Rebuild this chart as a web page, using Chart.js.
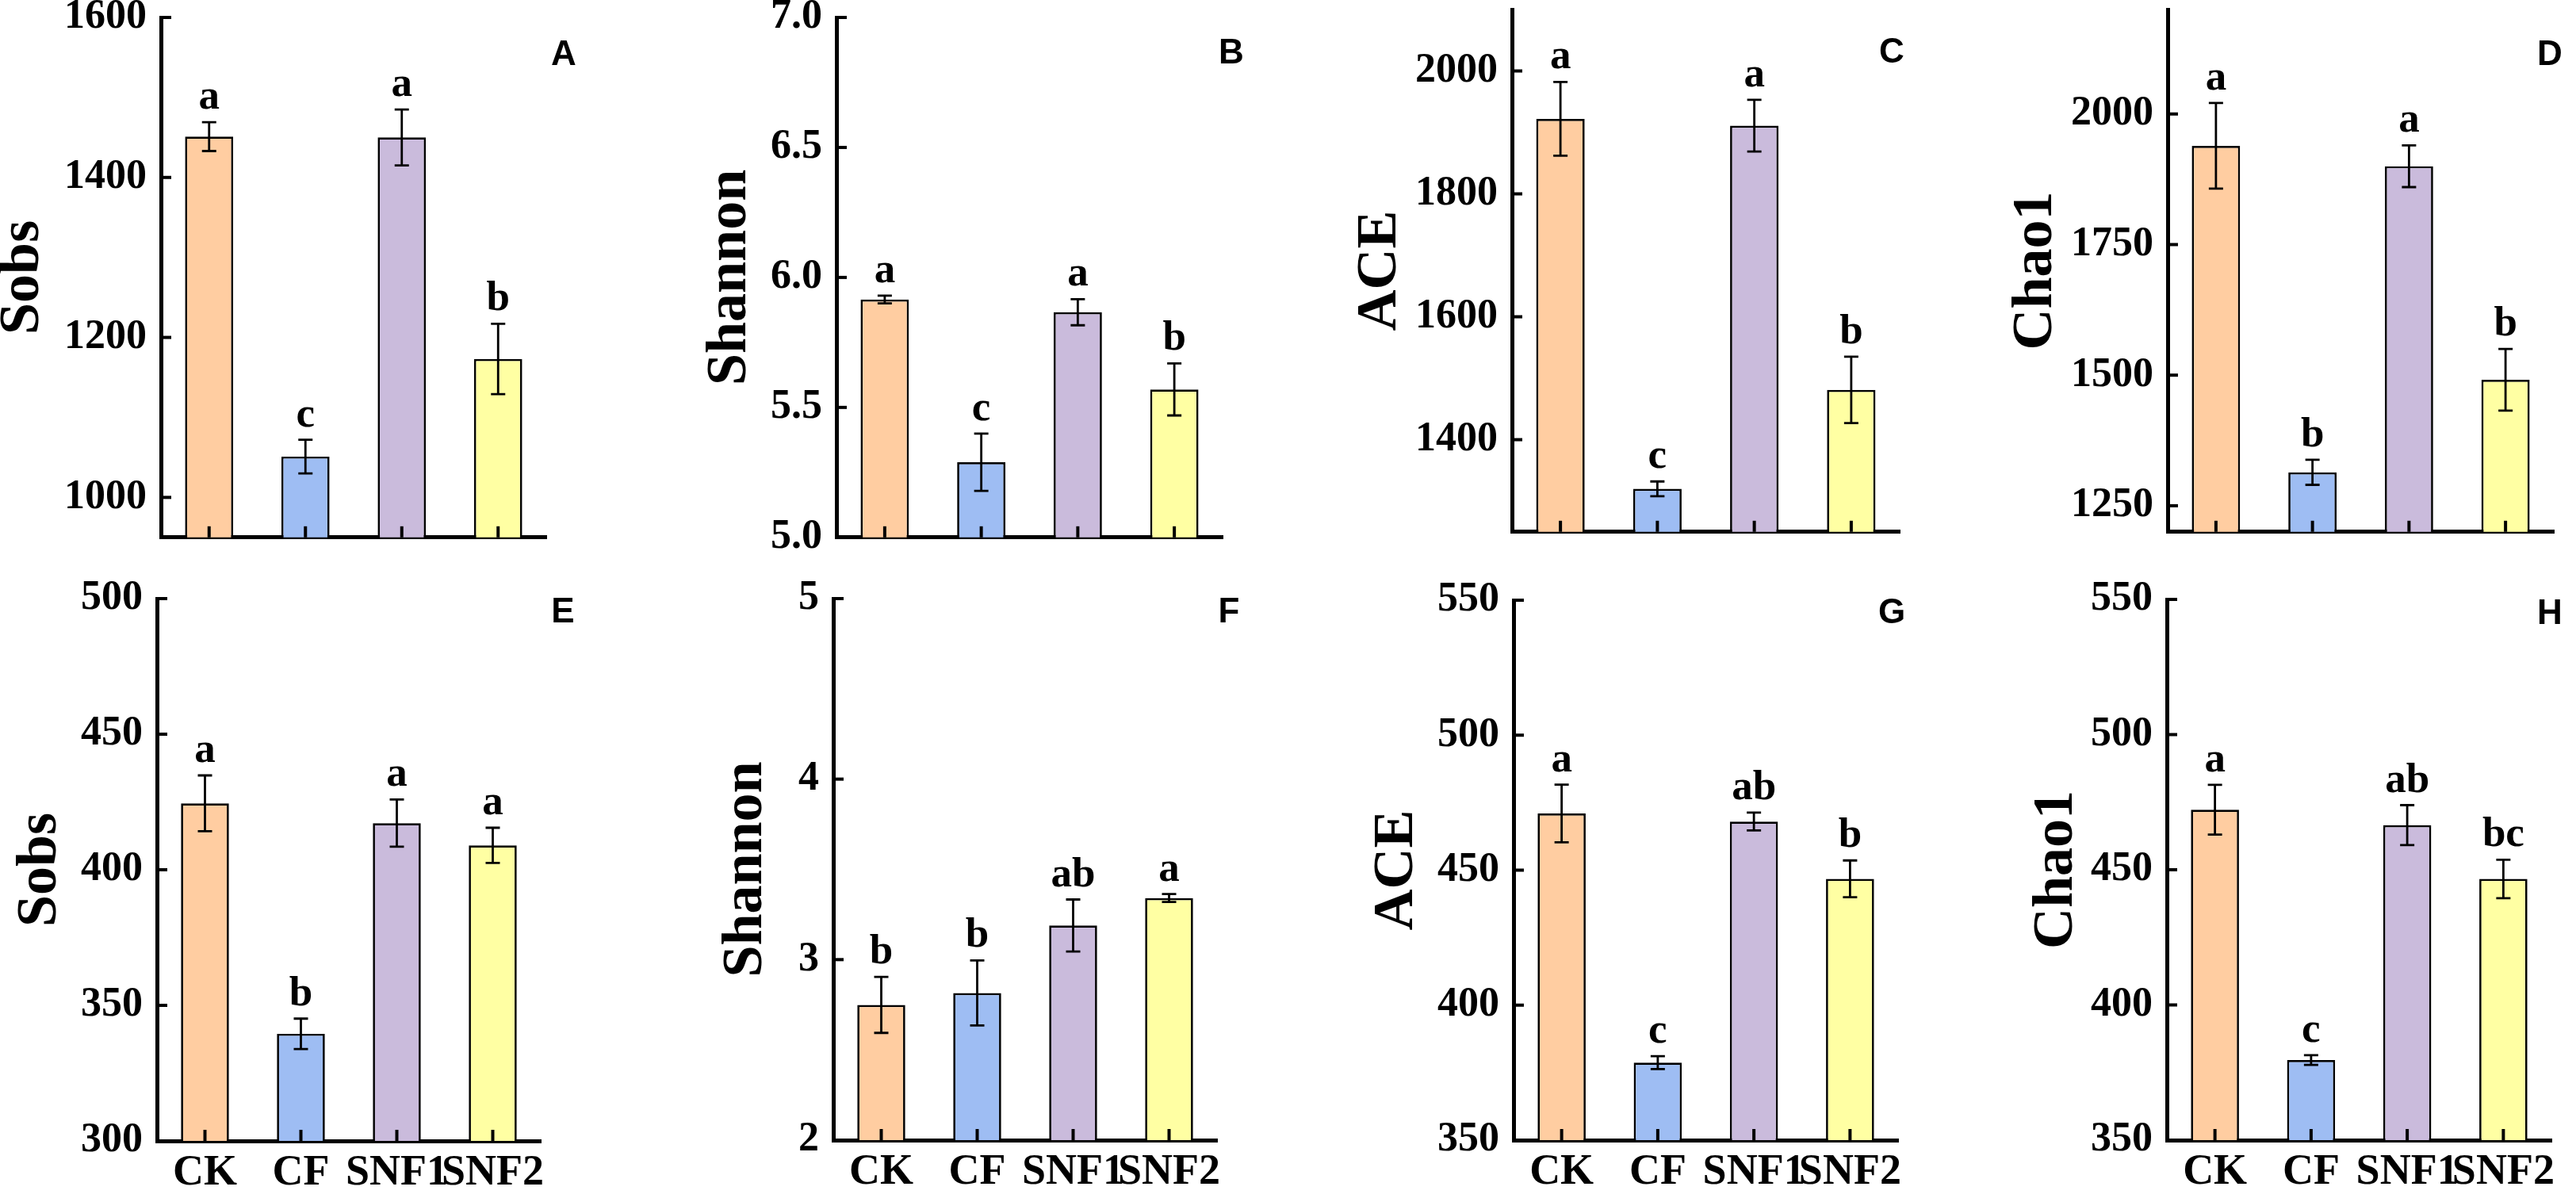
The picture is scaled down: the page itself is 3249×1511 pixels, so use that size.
<!DOCTYPE html>
<html lang="en">
<head>
<meta charset="utf-8">
<title>Alpha diversity</title>
<script src="https://cdn.jsdelivr.net/npm/chart.js@4.4.1/dist/chart.umd.min.js"></script>
<style>
  html, body { margin: 0; padding: 0; background: #fff; }
  body { width: 3249px; height: 1511px; position: relative; overflow: hidden; }
  canvas { position: absolute; }
</style>
</head>
<body>
<script>
// categorias (tratamientos)
const categorias = ['CK', 'CF', 'SNF1', 'SNF2'];
const coloresBarras = ['#FFCDA1', '#9EBDF3', '#CABBDC', '#FFFFA3'];

// Fila superior
const sobsA = [1451, 1051, 1450, 1173];
const errSobsA = [18, 21, 35, 44];
const letrasSobsA = ['a', 'c', 'a', 'b'];
const ticksSobsA = [1000, 1200, 1400, 1600];
const rangoSobsA = [950, 1600];

const shannonB = [5.915, 5.289, 5.866, 5.569];
const errShannonB = [0.015, 0.11, 0.05, 0.10];
const letrasShannonB = ['a', 'c', 'a', 'b'];
const ticksShannonB = [5.0, 5.5, 6.0, 6.5, 7.0];
const rangoShannonB = [5.0, 7.0];

const aceC = [1922, 1320, 1911, 1481];
const errAceC = [60, 12, 42, 54];
const letrasAceC = ['a', 'c', 'a', 'b'];
const ticksAceC = [1400, 1600, 1800, 2000];
const rangoAceC = [1250, 2100];

const chao1D = [1939, 1314, 1900, 1491];
const errChao1D = [82, 24, 40, 59];
const letrasChao1D = ['a', 'b', 'a', 'b'];
const ticksChao1D = [1250, 1500, 1750, 2000];
const rangoChao1D = [1200, 2200];

// Fila inferior
const sobsE = [424.5, 339.5, 417.2, 409];
const errSobsE = [10.3, 5.6, 8.7, 6.5];
const letrasSobsE = ['a', 'b', 'a', 'a'];
const ticksSobsE = [300, 350, 400, 450, 500];
const rangoSobsE = [300, 500];

const shannonF = [2.749, 2.815, 3.189, 3.341];
const errShannonF = [0.155, 0.18, 0.144, 0.022];
const letrasShannonF = ['b', 'b', 'ab', 'a'];
const ticksShannonF = [2, 3, 4, 5];
const rangoShannonF = [2, 5];

const aceG = [471, 378.7, 468, 446.8];
const errAceG = [10.7, 2.4, 3.3, 6.8];
const letrasAceG = ['a', 'c', 'ab', 'b'];
const ticksAceG = [350, 400, 450, 500, 550];
const rangoAceG = [350, 550];

const chao1H = [472.2, 379.6, 466.5, 446.6];
const errChao1H = [9.2, 1.8, 7.4, 7.1];
const letrasChao1H = ['a', 'c', 'ab', 'bc'];
const ticksChao1H = [350, 400, 450, 500, 550];
const rangoChao1H = [350, 550];

// posicion de cada panel en la pagina (pixeles)
const paneles = [
    { letra: 'A', titulo: 'Sobs', valores: sobsA, errores: errSobsA, letras: letrasSobsA, ticks: ticksSobsA, rango: rangoSobsA, decimales: 0,
      ejeX: 203, derecha: 689, arriba: 22, abajo: 687, tituloX: 29, dxLetra: 22, dyLetra: 48, etiquetas: false },
    { letra: 'B', titulo: 'Shannon', valores: shannonB, errores: errShannonB, letras: letrasShannonB, ticks: ticksShannonB, rango: rangoShannonB, decimales: 1,
      ejeX: 1055, derecha: 1542, arriba: 22, abajo: 687, tituloX: 921, dxLetra: 11, dyLetra: 46, etiquetas: false },
    { letra: 'C', titulo: 'ACE', valores: aceC, errores: errAceC, letras: letrasAceC, ticks: ticksAceC, rango: rangoAceC, decimales: 0,
      ejeX: 1907, derecha: 2396, arriba: 12, abajo: 680, tituloX: 1741, dxLetra: -10, dyLetra: 55, etiquetas: false },
    { letra: 'D', titulo: 'Chao1', valores: chao1D, errores: errChao1D, letras: letrasChao1D, ticks: ticksChao1D, rango: rangoChao1D, decimales: 0,
      ejeX: 2734, derecha: 3221, arriba: 12, abajo: 680, tituloX: 2568, dxLetra: -5, dyLetra: 58, etiquetas: false },
    { letra: 'E', titulo: 'Sobs', valores: sobsE, errores: errSobsE, letras: letrasSobsE, ticks: ticksSobsE, rango: rangoSobsE, decimales: 0,
      ejeX: 198, derecha: 682, arriba: 755, abajo: 1439, tituloX: 51, dxLetra: 28, dyLetra: 18, etiquetas: true },
    { letra: 'F', titulo: 'Shannon', valores: shannonF, errores: errShannonF, letras: letrasShannonF, ticks: ticksShannonF, rango: rangoShannonF, decimales: 0,
      ejeX: 1051, derecha: 1535, arriba: 755, abajo: 1438, tituloX: 941, dxLetra: 15, dyLetra: 18, etiquetas: true },
    { letra: 'G', titulo: 'ACE', valores: aceG, errores: errAceG, letras: letrasAceG, ticks: ticksAceG, rango: rangoAceG, decimales: 0,
      ejeX: 1909, derecha: 2394, arriba: 757, abajo: 1438, tituloX: 1762, dxLetra: -8, dyLetra: 17, etiquetas: true },
    { letra: 'H', titulo: 'Chao1', valores: chao1H, errores: errChao1H, letras: letrasChao1H, ticks: ticksChao1H, rango: rangoChao1H, decimales: 0,
      ejeX: 2733, derecha: 3218, arriba: 756, abajo: 1438, tituloX: 2594, dxLetra: -2, dyLetra: 19, etiquetas: true }
];

const fuenteSerif = '"Liberation Serif", "Times New Roman", serif';
const fuenteSans = '"Liberation Sans", Arial, sans-serif';

// marcas internas, barras de error, letras de significancia y letra del panel
const pluginDetalles = {
    id: 'detalles',
    afterDatasetsDraw(chart) {
        const cfg = chart.options.plugins.detalles;
        const ctx = chart.ctx;
        const escalaY = chart.scales.y;
        const area = chart.chartArea;
        const barras = chart.getDatasetMeta(0).data;

        ctx.save();
        ctx.strokeStyle = '#000';
        ctx.fillStyle = '#000';
        ctx.lineCap = 'butt';

        ctx.lineWidth = 4;
        escalaY.ticks.forEach(t => {
            const py = escalaY.getPixelForValue(t.value);
            ctx.beginPath();
            ctx.moveTo(area.left, py);
            ctx.lineTo(area.left + 13, py);
            ctx.stroke();
        });
        barras.forEach(b => {
            ctx.beginPath();
            ctx.moveTo(b.x, area.bottom);
            ctx.lineTo(b.x, area.bottom - 14);
            ctx.stroke();
        });

        ctx.lineWidth = 2.8;
        ctx.font = 'bold 53px ' + fuenteSerif;
        ctx.textAlign = 'center';
        ctx.textBaseline = 'alphabetic';
        barras.forEach((b, i) => {
            const v = cfg.valores[i];
            const e = cfg.errores[i];
            const yArriba = escalaY.getPixelForValue(v + e);
            const yAbajo = escalaY.getPixelForValue(v - e);
            ctx.beginPath();
            ctx.moveTo(b.x, yArriba);
            ctx.lineTo(b.x, yAbajo);
            ctx.moveTo(b.x - 9, yArriba);
            ctx.lineTo(b.x + 9, yArriba);
            ctx.moveTo(b.x - 9, yAbajo);
            ctx.lineTo(b.x + 9, yAbajo);
            ctx.stroke();
            ctx.fillText(cfg.letras[i], b.x, yArriba - 17);
        });

        ctx.font = 'bold 44px ' + fuenteSans;
        ctx.textBaseline = 'middle';
        ctx.fillText(cfg.letra, area.right + cfg.dxLetra, area.top + cfg.dyLetra);
        ctx.restore();
    }
};

function crearPanel(p) {
    const margenArriba = 60;
    const margenDerecha = 80;
    const altoX = p.etiquetas ? 75 : 40;
    const izquierda = p.tituloX - 36;
    const anchoY = p.ejeX - izquierda;
    const top = p.arriba - margenArriba;
    const ancho = p.derecha + margenDerecha - izquierda;
    const alto = p.abajo + altoX - top;

    const canvas = document.createElement('canvas');
    canvas.width = ancho;
    canvas.height = alto;
    canvas.style.left = izquierda + 'px';
    canvas.style.top = top + 'px';
    canvas.style.width = ancho + 'px';
    canvas.style.height = alto + 'px';
    document.body.appendChild(canvas);

    new Chart(canvas.getContext('2d'), {
        type: 'bar',
        data: {
            labels: categorias,
            datasets: [{
                data: p.valores,
                backgroundColor: coloresBarras,
                borderColor: '#000',
                borderWidth: 2.7,
                barPercentage: 0.5,
                categoryPercentage: 1
            }]
        },
        options: {
            responsive: false,
            animation: false,
            devicePixelRatio: 1,
            layout: { padding: { top: margenArriba, right: margenDerecha, left: 0, bottom: 0 } },
            plugins: {
                legend: { display: false },
                tooltip: { enabled: false },
                detalles: {
                    valores: p.valores,
                    errores: p.errores,
                    letras: p.letras,
                    letra: p.letra,
                    dxLetra: p.dxLetra,
                    dyLetra: p.dyLetra
                }
            },
            scales: {
                x: {
                    offset: true,
                    z: 1,
                    grid: { display: false, drawTicks: false },
                    border: { display: true, color: '#000', width: 5 },
                    ticks: {
                        display: p.etiquetas,
                        color: '#000',
                        padding: 9,
                        maxRotation: 0,
                        minRotation: 0,
                        autoSkip: false,
                        font: { family: fuenteSerif, size: 54, weight: 'bold' }
                    },
                    afterFit: s => { s.height = altoX; }
                },
                y: {
                    min: p.rango[0],
                    max: p.rango[1],
                    z: 1,
                    afterBuildTicks: s => { s.ticks = p.ticks.map(v => ({ value: v })); },
                    afterFit: s => { s.width = anchoY; },
                    grid: { display: false, drawTicks: false },
                    border: { display: true, color: '#000', width: 5 },
                    ticks: {
                        color: '#000',
                        padding: 18,
                        font: { family: fuenteSerif, size: 52, weight: 'bold' },
                        callback: v => Number(v).toFixed(p.decimales)
                    },
                    title: {
                        display: true,
                        text: p.titulo,
                        color: '#000',
                        padding: 0,
                        font: { family: fuenteSerif, size: 72, weight: 'bold', lineHeight: 1 }
                    }
                }
            }
        },
        plugins: [pluginDetalles]
    });
}

paneles.forEach(crearPanel);
</script>
</body>
</html>
